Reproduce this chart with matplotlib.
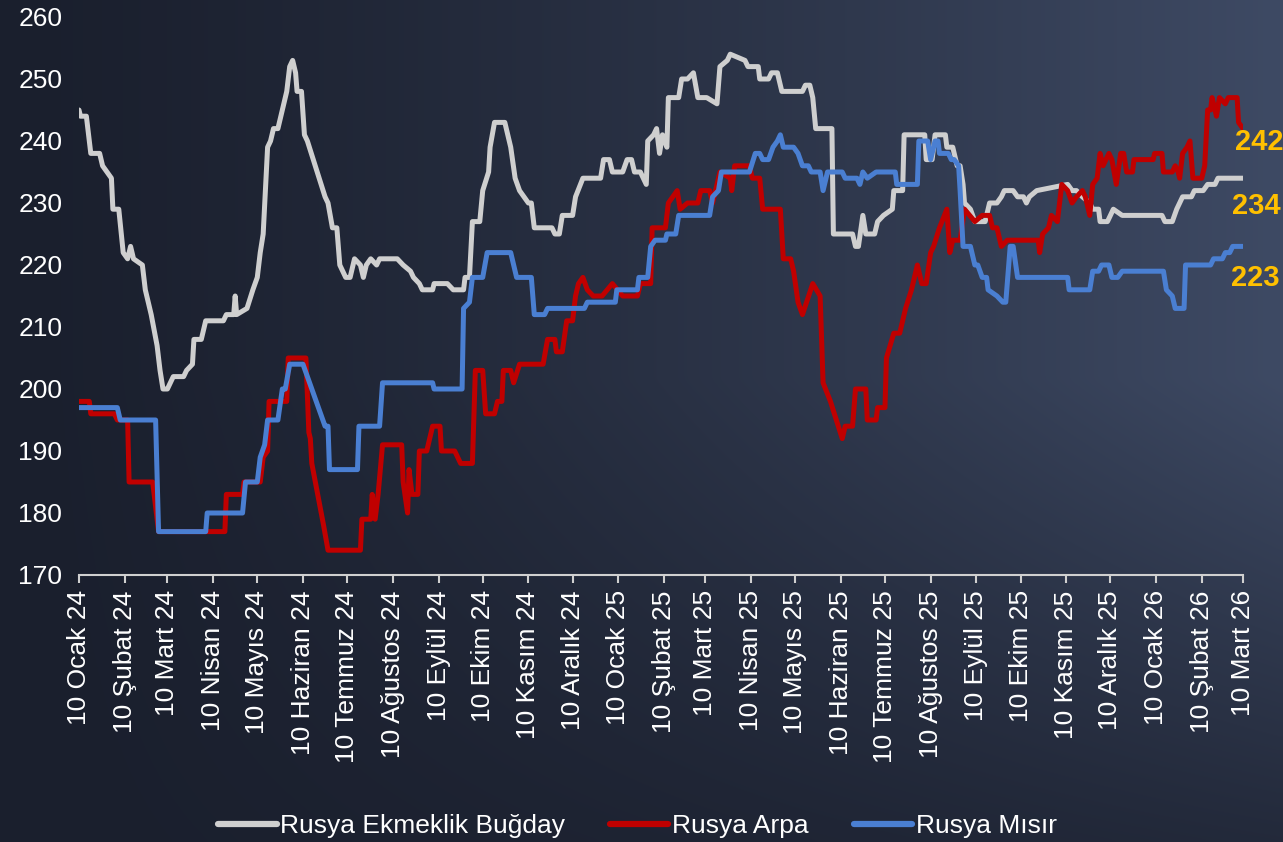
import numpy as np
import pandas as pd
import matplotlib
matplotlib.use('Agg')
import matplotlib.pyplot as plt

plt.rcParams['font.family'] = ['Liberation Sans', 'DejaVu Sans']

# days counted from 10 Ocak 2024
start = pd.Timestamp('2024-01-10')

wheat_days = [0, 1, 5, 7, 8, 14, 16, 19, 22, 23, 27, 30, 33, 35, 37, 43, 45, 49, 53, 55,
              57, 60, 62, 64, 71, 73, 77, 78, 83, 86, 98, 100, 105, 106, 107, 114, 118, 121, 123, 125,
              128, 130, 132, 135, 138, 141, 143, 145, 147, 148, 151, 153, 155, 167, 169, 172, 175, 177, 181, 184,
              187, 191, 193, 195, 198, 202, 204, 216, 220, 225, 227, 231, 233, 240, 241, 250, 254, 261, 262, 265,
              267, 272, 274, 278, 279, 282, 289, 293, 296, 299, 305, 307, 309, 321, 323, 326, 328, 335, 337, 342,
              354, 356, 360, 362, 369, 372, 375, 377, 381, 385, 386, 390, 392, 394, 396, 399, 400, 407, 409, 413,
              417, 420, 426, 433, 435, 440, 442, 452, 454, 461, 462, 468, 470, 474, 477, 491, 493, 496, 498, 500,
              511, 512, 525, 527, 529, 532, 534, 540, 542, 546, 552, 553, 559, 560, 564, 574, 575, 579, 581, 588,
              589, 593, 596, 598, 600, 601, 605, 608, 615, 618, 623, 626, 628, 634, 637, 641, 643, 645, 650, 671,
              674, 677, 681, 686, 688, 692, 693, 698, 702, 708, 735, 737, 742, 745, 749, 755, 757, 763, 766, 771,
              773, 790]
wheat_vals = [245, 244, 244, 240, 238, 238, 236, 235, 234, 229, 229, 222, 221, 223, 221, 220, 216, 212, 207, 203,
              200, 200, 201, 202, 202, 203, 204, 208, 208, 211, 211, 212, 212, 215, 212, 213, 216, 218, 222, 225,
              239, 240, 242, 242, 245, 248, 252, 253, 251, 248, 248, 241, 240, 231, 230, 226, 226, 220, 218, 218,
              221, 220, 218, 220, 221, 220, 221, 221, 220, 219, 218, 217, 216, 216, 217, 217, 216, 216, 218, 218,
              227, 227, 232, 235, 239, 243, 243, 239, 234, 232, 230, 230, 226, 226, 225, 225, 228, 228, 231, 234,
              234, 237, 237, 235, 235, 237, 237, 235, 235, 233, 240, 241, 242, 238, 241, 239, 247, 247, 250, 250,
              251, 247, 247, 246, 252, 253, 254, 253, 252, 252, 250, 250, 251, 251, 248, 248, 249, 249, 247, 242,
              242, 225, 225, 223, 223, 228, 225, 225, 227, 228, 229, 232, 232, 241, 241, 241, 237, 237, 241, 241,
              239, 239, 236, 236, 233, 230, 229, 227, 227, 230, 230, 231, 232, 232, 231, 231, 230, 231, 232, 233,
              232, 232, 231, 230, 229, 229, 227, 227, 229, 228, 228, 227, 227, 229, 231, 231, 232, 232, 233, 233,
              234, 234]

barley_days = [0, 7, 8, 24, 26, 33, 34, 50, 54, 88, 99, 100, 111, 112, 123, 125, 128, 129, 141, 142,
               154, 156, 157, 158, 166, 169, 191, 192, 198, 199, 201, 203, 206, 219, 220, 223, 224, 226, 230, 231,
               236, 240, 245, 246, 255, 259, 267, 269, 274, 276, 282, 284, 287, 288, 293, 295, 299, 315, 318, 323,
               324, 328, 331, 335, 337, 339, 342, 345, 349, 355, 362, 369, 379, 381, 388, 389, 398, 400, 406, 408,
               413, 420, 422, 428, 430, 435, 442, 443, 445, 455, 457, 462, 464, 476, 478, 483, 485, 488, 491, 498,
               503, 505, 510, 518, 520, 525, 527, 534, 535, 541, 542, 547, 548, 553, 557, 561, 565, 569, 572, 575,
               578, 580, 584, 589, 591, 593, 598, 601, 608, 613, 618, 620, 623, 626, 630, 651, 652, 654, 658, 660,
               664, 667, 671, 674, 677, 681, 683, 686, 688, 691, 693, 695, 699, 701, 704, 707, 709, 711, 715, 716,
               729, 730, 735, 736, 742, 744, 746, 747, 749, 752, 754, 756, 762, 764, 766, 768, 769, 772, 774, 778,
               780, 786, 787, 790]
barley_vals = [198, 198, 196, 196, 195, 195, 185, 185, 177, 177, 177, 183, 183, 185, 185, 189, 190, 198, 198, 205,
               205, 193, 192, 188, 178, 174, 174, 179, 179, 183, 179, 183, 191, 191, 185, 180, 187, 183, 183, 190,
               190, 194, 194, 190, 190, 188, 188, 203, 203, 196, 196, 198, 198, 203, 203, 201, 204, 204, 208, 208,
               206, 206, 211, 211, 215, 217, 218, 216, 215, 215, 217, 215, 215, 217, 217, 226, 226, 230, 232, 229,
               230, 230, 232, 232, 230, 235, 234, 232, 236, 236, 234, 234, 229, 229, 221, 221, 219, 214, 212, 217,
               215, 201, 198, 192, 194, 194, 200, 200, 195, 195, 197, 197, 205, 209, 209, 213, 216, 220, 217, 217,
               222, 223, 226, 229, 222, 224, 224, 229, 227, 228, 228, 226, 226, 223, 224, 224, 222, 225, 226, 228,
               227, 233, 232, 230, 231, 232, 231, 228, 233, 234, 238, 236, 238, 237, 233, 238, 238, 235, 235, 237,
               237, 238, 238, 235, 235, 236, 235, 234, 238, 239, 240, 234, 234, 236, 245, 245, 247, 244, 247, 246,
               247, 247, 243, 242]

corn_days = [0, 26, 28, 52, 54, 86, 87, 111, 113, 121, 123, 126, 128, 135, 138, 140, 143, 152, 155, 167,
             169, 170, 189, 190, 204, 206, 240, 241, 260, 261, 265, 267, 274, 277, 293, 297, 307, 309, 316, 318,
             343, 345, 364, 365, 379, 380, 386, 388, 391, 398, 399, 405, 407, 428, 430, 434, 436, 455, 459, 462,
             464, 468, 471, 474, 476, 478, 485, 488, 491, 495, 497, 503, 505, 508, 518, 520, 528, 530, 532, 535,
             541, 554, 555, 569, 570, 576, 578, 581, 583, 584, 590, 592, 594, 597, 598, 600, 605, 608, 610, 613,
             616, 617, 623, 627, 629, 632, 634, 637, 671, 672, 686, 688, 692, 694, 699, 701, 705, 708, 736, 738,
             742, 744, 750, 751, 768, 770, 776, 778, 781, 783, 787, 790]
corn_vals = [197, 197, 195, 195, 177, 177, 180, 180, 185, 185, 189, 191, 195, 195, 200, 200, 204, 204, 202, 194,
             194, 187, 187, 194, 194, 201, 201, 200, 200, 213, 214, 218, 218, 222, 222, 218, 218, 212, 212, 213,
             213, 214, 214, 216, 216, 218, 218, 223, 224, 224, 225, 225, 228, 228, 231, 232, 235, 235, 238, 238,
             237, 237, 239, 240, 241, 239, 239, 238, 236, 236, 235, 235, 232, 235, 235, 234, 234, 233, 235, 234,
             235, 235, 233, 233, 240, 240, 237, 240, 240, 238, 238, 237, 237, 236, 232, 223, 223, 220, 220, 218,
             218, 216, 215, 214, 214, 223, 223, 218, 218, 216, 216, 219, 219, 220, 220, 218, 218, 219, 219, 216,
             215, 213, 213, 220, 220, 221, 221, 222, 222, 223, 223, 223]

series_names = ['Rusya Ekmeklik Buğday', 'Rusya Arpa', 'Rusya Mısır']
series_colors = ['#cfcfcf', '#c00000', '#4a7fd2']
end_labels = ['234', '242', '223']

month_names = ['Ocak', 'Şubat', 'Mart', 'Nisan', 'Mayıs', 'Haziran', 'Temmuz',
               'Ağustos', 'Eylül', 'Ekim', 'Kasım', 'Aralık']


def to_dates(days):
    return start + pd.to_timedelta(days, unit='D')


fig = plt.figure(figsize=(12.83, 8.42), dpi=100)

# dark slate background, dark on the left, bluish towards the right
bg = fig.add_axes([0, 0, 1, 1], zorder=-10)
h, w = 200, 300
yy, xx = np.mgrid[0:h, 0:w]
xn = xx / (w - 1)
yn = yy / (h - 1)
f = xn ** 1.3 * (1 - 0.75 * np.clip((yn - 0.45) / 0.55, 0, 1))
dark = np.array([26, 31, 45]) / 255
light = np.array([62, 74, 100]) / 255
img = dark + (light - dark) * f[..., None]
bg.imshow(img, aspect='auto', extent=[0, 1, 0, 1], interpolation='bicubic')
bg.axis('off')

ax = fig.add_axes([79 / 1283, 1 - 575 / 842, (1243 - 79) / 1283, (575 - 17) / 842])
ax.patch.set_alpha(0)

all_days = [wheat_days, barley_days, corn_days]
all_vals = [wheat_vals, barley_vals, corn_vals]
for days, vals, name, color in zip(all_days, all_vals, series_names, series_colors):
    ax.plot(to_dates(days), vals, color=color, linewidth=3.6, label=name,
            solid_joinstyle='round', solid_capstyle='round')

# end value labels
label_offsets = [(-8, -20), (-6, -10), (-9, -23)]
for days, vals, lab, off in zip(all_days, all_vals, end_labels, label_offsets):
    ax.annotate(lab, xy=(to_dates([days[-1]])[0], vals[-1]), xytext=off,
                textcoords='offset points', ha='left', va='center',
                fontsize=21, fontweight='bold', color='#ffc000', annotation_clip=False)

ticks = [start + pd.DateOffset(months=i) for i in range(27)]
tick_labels = [f'10 {month_names[t.month - 1]} {t.year % 100}' for t in ticks]
ax.set_xticks(ticks)
ax.set_xticklabels(tick_labels, rotation=90, fontsize=19, color='white')
ax.set_xlim(ticks[0], ticks[-1])
ax.set_ylim(170, 260)
ax.set_yticks(np.arange(170, 261, 10))
ax.tick_params(axis='y', length=0, labelsize=19, labelcolor='white', pad=12)
ax.tick_params(axis='x', length=6, width=1.5, color='#d0d0d0', pad=5)
for s in ['top', 'right', 'left']:
    ax.spines[s].set_visible(False)
ax.spines['bottom'].set_color('#d0d0d0')
ax.spines['bottom'].set_linewidth(1.5)

leg = fig.legend(loc='center', bbox_to_anchor=(0.497, 0.019), ncol=3, frameon=False,
                 fontsize=19, handlelength=2.2, handletextpad=0.15, columnspacing=1.7)
for t in leg.get_texts():
    t.set_color('white')
for l in leg.get_lines():
    l.set_linewidth(4.5)

plt.savefig('out.png', dpi=100)
